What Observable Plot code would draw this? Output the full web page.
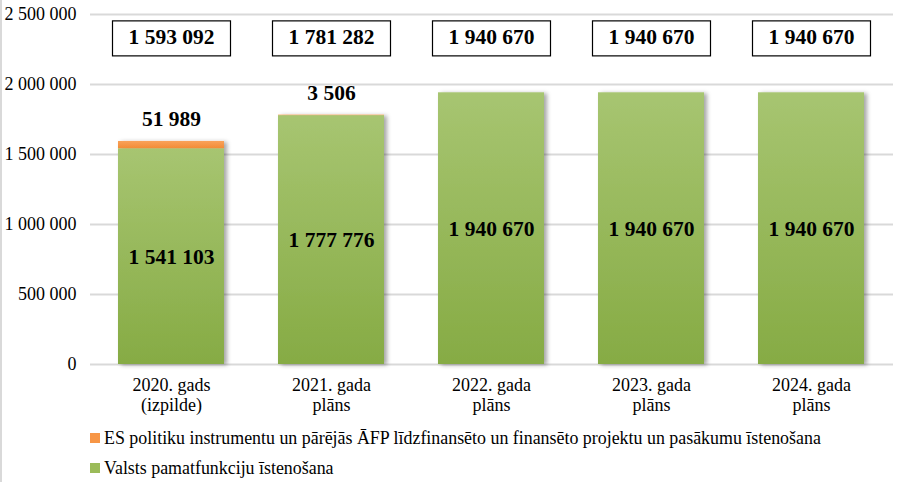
<!DOCTYPE html>
<html>
<head>
<meta charset="utf-8">
<script src="https://cdn.jsdelivr.net/npm/d3@7"></script>
<script src="https://cdn.jsdelivr.net/npm/@observablehq/plot@0.6"></script>
<style>
  body { margin: 0; background: #fff; font-family: "Liberation Serif", serif; }
  #wrap { position: relative; width: 905px; height: 482px; border-left: 2px solid #d9d9d9; box-sizing: border-box; }
  .legend { position: absolute; left: 88px; font-size: 17.9px; line-height: 20px; color: #000; display: flex; align-items: center; font-family: "Liberation Serif", serif; white-space: nowrap; }
  .legend span.sw { display: inline-block; width: 10px; height: 10px; margin-right: 4px; }
</style>
</head>
<body>
<div id="wrap"></div>
<script>
const categories = ["2020. gads\n(izpilde)", "2021. gada\nplāns", "2022. gada\nplāns", "2023. gada\nplāns", "2024. gada\nplāns"];
const basicValues = [1541103, 1777776, 1940670, 1940670, 1940670];
const euValues = [51989, 3506, 0, 0, 0];
const totals = [1593092, 1781282, 1940670, 1940670, 1940670];
const seriesNames = ["Valsts pamatfunkciju īstenošana", "ES politiku instrumentu un pārējās ĀFP līdzfinansēto un finansēto projektu un pasākumu īstenošana"];
const yTicks = [0, 500000, 1000000, 1500000, 2000000, 2500000];

const FONT = "Liberation Serif, serif";
const fmt = v => d3.format(",")(v).replace(/,/g, " ");

const rows = [];
categories.forEach((c, i) => {
  rows.push({cat: c, series: seriesNames[0], value: basicValues[i], order: 0});
  rows.push({cat: c, series: seriesNames[1], value: euValues[i], order: 1});
});
const greenRows = categories.map((c, i) => ({cat: c, value: basicValues[i]}));
const euRows = categories.map((c, i) => ({cat: c, value: euValues[i], total: totals[i]})).filter(d => d.value > 0);
const totalRows = categories.map((c, i) => ({cat: c, total: totals[i]}));

const chart = Plot.plot({
  width: 903,
  height: 420,
  marginTop: 14,
  marginBottom: 56,
  marginLeft: 88,
  marginRight: 12,
  style: {fontFamily: FONT, fontSize: "18px", color: "#000", background: "#fff"},
  x: {domain: categories, paddingInner: 0.335, paddingOuter: 0.1675, label: null},
  y: {domain: [0, 2500000], ticks: yTicks, label: null},
  marks: [
    Plot.gridY(yTicks, {stroke: "#d9d9d9", strokeOpacity: 1, strokeWidth: 2}),
    Plot.axisY({ticks: yTicks, tickSize: 0, tickPadding: 14, tickFormat: fmt, fontSize: 18, fontFamily: FONT, label: null}),
    Plot.axisX({tickSize: 0, tickPadding: 13, lineHeight: 1.08, fontSize: 18, fontFamily: FONT, label: null}),
    Plot.barY(rows, {x: "cat", y: "value", z: "series", sort: null,
      fill: d => d.order === 0 ? "url(#greenGrad)" : "url(#orangeGrad)", className: "bars"}),
    Plot.text(greenRows, {x: "cat", y: d => d.value / 2, text: d => fmt(d.value), fontWeight: "bold", fontSize: 21.5, fontFamily: FONT, fill: "#000"}),
    Plot.text(euRows, {x: "cat", y: "total", text: d => fmt(d.value), fontWeight: "bold", fontSize: 21.5, fontFamily: FONT, dy: -22, fill: "#000"}),
    Plot.text(totalRows, {x: "cat", frameAnchor: "top", lineAnchor: "middle", dy: 23, text: d => fmt(d.total), fontWeight: "bold", fontSize: 21.5, fontFamily: FONT, fill: "#000", className: "totals"})
  ]
});

const wrap = document.getElementById("wrap");
wrap.appendChild(chart);

// gradients & shadow
const svg = d3.select(chart);
const defs = svg.insert("defs", ":first-child");
const gg = defs.append("linearGradient").attr("id", "greenGrad").attr("x1", 0).attr("y1", 0).attr("x2", 0).attr("y2", 1);
gg.append("stop").attr("offset", "0%").attr("stop-color", "#a7c571");
gg.append("stop").attr("offset", "100%").attr("stop-color", "#86ab44");
const og = defs.append("linearGradient").attr("id", "orangeGrad").attr("x1", 0).attr("y1", 0).attr("x2", 0).attr("y2", 1);
og.append("stop").attr("offset", "0%").attr("stop-color", "#f9a25a");
og.append("stop").attr("offset", "100%").attr("stop-color", "#f28c36");
const f = defs.append("filter").attr("id", "shadow").attr("x", "-10%").attr("y", "-10%").attr("width", "130%").attr("height", "120%");
f.append("feDropShadow").attr("dx", 3).attr("dy", 1).attr("stdDeviation", 2).attr("flood-color", "#000").attr("flood-opacity", 0.35);
svg.selectAll("g.bars").attr("filter", "url(#shadow)");

// boxes around totals
svg.selectAll("g.totals text").each(function() {
  const b = this.getBBox();
  const cx = b.x + b.width / 2, cy = b.y + b.height / 2;
  const w = b.width + 32, h = 35;
  d3.select(this.parentNode).insert("rect", () => this)
    .attr("transform", this.getAttribute("transform"))
    .attr("x", cx - w / 2).attr("y", cy - h / 2 + 1).attr("width", w).attr("height", h)
    .attr("fill", "#fff").attr("stroke", "#000").attr("stroke-width", 1.2);
});

// legend
const legendItems = [
  {name: seriesNames[1], color: "#f79646", top: 428},
  {name: seriesNames[0], color: "#9bbb59", top: 458}
];
legendItems.forEach(it => {
  const d = document.createElement("div");
  d.className = "legend";
  d.style.top = it.top + "px";
  d.innerHTML = `<span class="sw" style="background:${it.color}"></span>`;
  d.appendChild(document.createTextNode(it.name));
  wrap.appendChild(d);
});
</script>
</body>
</html>
